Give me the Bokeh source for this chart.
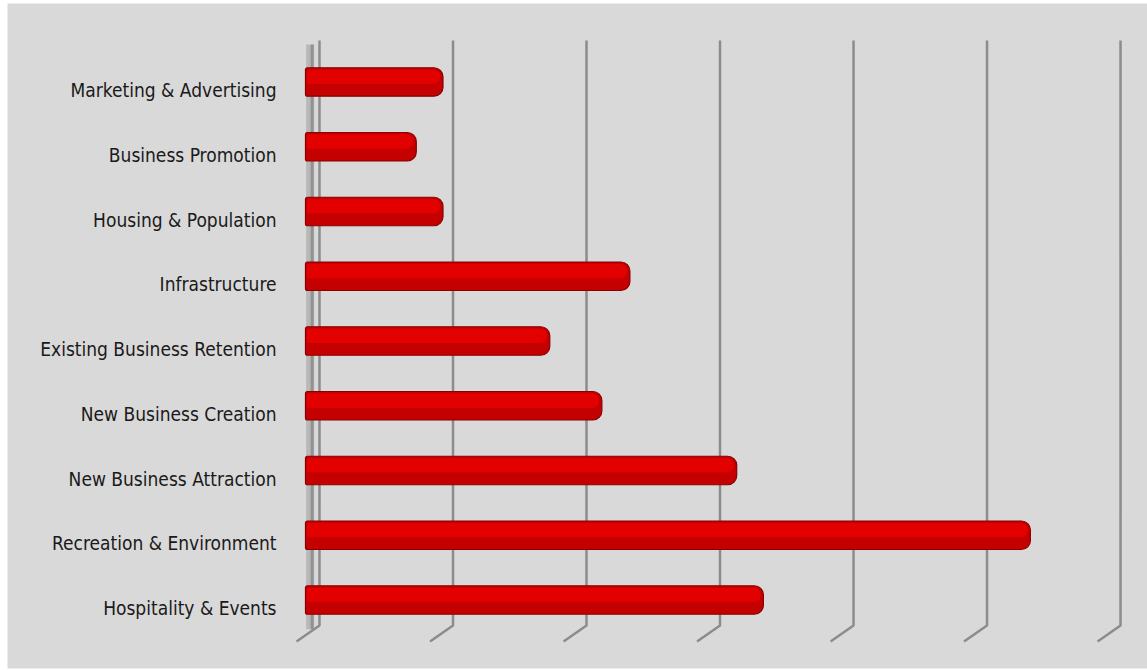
from bokeh.plotting import figure
from bokeh.models import Range1d, ColumnDataSource
from bokeh.core.properties import value
from bokeh.embed import file_html
from bokeh.resources import INLINE

categories = ["Marketing & Advertising", "Business Promotion", "Housing & Population",
              "Infrastructure", "Existing Business Retention", "New Business Creation",
              "New Business Attraction", "Recreation & Environment", "Hospitality & Events"]
values = [1.03, 0.83, 1.03, 2.43, 1.83, 2.22, 3.23, 5.43, 3.43]
grid_values = [0, 1, 2, 3, 4, 5, 6]

rows = list(range(len(categories)))

p = figure(width=1147, height=670, x_range=Range1d(-2.232, 6.307), y_range=Range1d(9.058, -1.212),
           output_backend="svg", toolbar_location=None, x_axis_type=None, y_axis_type=None,
           min_border_left=7, min_border_top=3, min_border_right=0, min_border_bottom=2)
p.grid.visible = False
p.outline_line_color = None
p.background_fill_color = "#d9d9d9"
p.border_fill_color = "white"

# back wall shadow
p.segment(x0=[0.035], y0=[-0.58], x1=[0.035], y1=[8.45], line_color="#7a7a7a", line_width=8, line_alpha=0.35)
p.segment(x0=[0.05], y0=[-0.58], x1=[0.05], y1=[8.45], line_color="#5a5a5a", line_width=3, line_alpha=0.4)

# gridlines (3D: vertical on back wall, slanted foot)
gx = [[g + 0.105, g + 0.105, g + 0.105 - 0.172] for g in grid_values]
gy = [[-0.641, 8.394, 8.641] for g in grid_values]
p.multi_line(xs=gx, ys=gy, line_color="#8c8c8c", line_width=2.5)

src = ColumnDataSource(dict(y=rows, right=values, yl=[r + 0.124 for r in rows], cat=categories))

# bars: base, highlight band
p.hbar(y="y", left=0, right="right", height=0.44, source=src, fill_color="#c40000",
       line_color="#8a0000", line_width=1.2, border_radius=(2, 9, 9, 2))
p.hbar(y="y", left=0.01, right="right", height=0.22, source=ColumnDataSource(dict(
       y=[r - 0.08 for r in rows], right=[v - 0.02 for v in values])),
       fill_color="#e30000", line_color=None, border_radius=(2, 7, 7, 2))

p.text(x=-0.217, y="yl", text="cat", source=src, text_align="right", text_baseline="middle",
       text_font=value("DejaVu Sans Condensed"), text_font_size="19px", text_color="#1a1a1a")

open("out.html", "w").write(file_html(p, INLINE))
